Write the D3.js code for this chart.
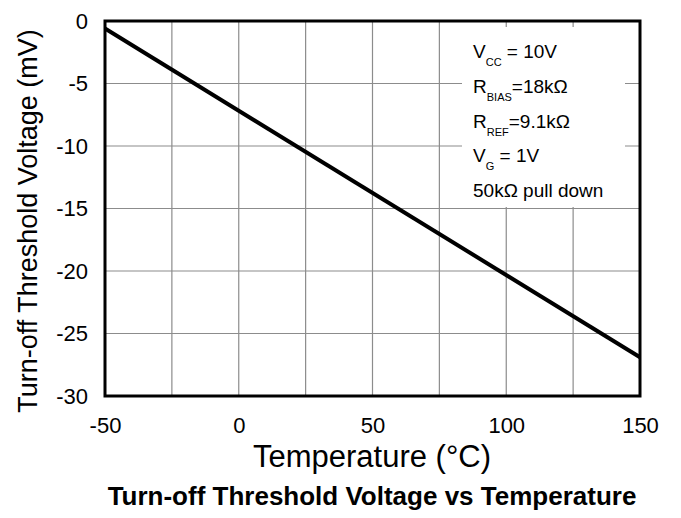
<html>
<head>
<meta charset="utf-8">
<script src="https://d3js.org/d3.v7.min.js"></script>
<style>
  body { margin: 0; background: #fff; }
  svg text { font-family: "Liberation Sans", Arial, sans-serif; fill: #000; }
</style>
</head>
<body>
<svg id="chart" width="681" height="518"></svg>
<script>
    // data
    var temps = [-50, 150];
    var volts = [-0.6, -26.9];
    var xTicks = [-50, 0, 50, 100, 150];
    var xGrid = [-50, -25, 0, 25, 50, 75, 100, 125, 150];
    var yTicks = [0, -5, -10, -15, -20, -25, -30];
    var notes = [
        ["V", "CC", " = 10V"],
        ["R", "BIAS", "=18k\u03A9"],
        ["R", "REF", "=9.1k\u03A9"],
        ["V", "G", " = 1V"],
        ["50k\u03A9 pull down", "", ""]
    ];

    var svg = d3.select("#chart");
    var margin = {top: 21, left: 105, right: 41, bottom: 122},
        width = 681 - margin.left - margin.right,
        height = 518 - margin.top - margin.bottom;

    var x = d3.scaleLinear().domain([-50, 150]).range([0, width]);
    var y = d3.scaleLinear().domain([-30, 0]).range([height, 0]);

    var g = svg.append("g")
        .attr("transform", "translate(" + margin.left + "," + margin.top + ")");

    // grid
    g.selectAll(".vgrid").data(xGrid).enter().append("line")
        .attr("x1", d => x(d)).attr("x2", d => x(d))
        .attr("y1", 0).attr("y2", height)
        .attr("stroke", "#8c8c8c").attr("stroke-width", 1.2);
    g.selectAll(".hgrid").data(yTicks).enter().append("line")
        .attr("x1", 0).attr("x2", width)
        .attr("y1", d => y(d)).attr("y2", d => y(d))
        .attr("stroke", "#8c8c8c").attr("stroke-width", 1.2);

    // note box covers the grid
    g.append("rect")
        .attr("x", 357).attr("y", 6)
        .attr("width", 163).attr("height", 180)
        .attr("fill", "#fff");

    var nt = g.selectAll(".note").data(notes).enter().append("text")
        .attr("x", 368)
        .attr("y", (d, i) => 37 + i * 34.8)
        .style("font-size", "19px");
    nt.append("tspan").text(d => d[0]);
    nt.append("tspan").attr("dy", 8).style("font-size", "11px").text(d => d[1]);
    nt.append("tspan").attr("dy", -8).text(d => d[2]);

    // data line
    var line = d3.line().x(d => x(d[0])).y(d => y(d[1]));
    g.append("path")
        .datum(d3.zip(temps, volts))
        .attr("d", line)
        .attr("fill", "none")
        .attr("stroke", "#000")
        .attr("stroke-width", 4);

    // frame
    g.append("rect")
        .attr("width", width).attr("height", height)
        .attr("fill", "none").attr("stroke", "#000").attr("stroke-width", 3);

    // axes
    var xAxis = g.append("g")
        .attr("transform", "translate(0," + height + ")")
        .call(d3.axisBottom(x).tickValues(xTicks).tickFormat(d => String(d)).tickSize(0).tickPadding(21));
    xAxis.select(".domain").remove();
    xAxis.selectAll("text").style("font-size", "22px");

    var yAxis = g.append("g")
        .call(d3.axisLeft(y).tickValues(yTicks).tickFormat(d => String(d)).tickSize(0).tickPadding(17));
    yAxis.select(".domain").remove();
    yAxis.selectAll("text").style("font-size", "22px");

    svg.append("text")
        .attr("x", 372)
        .attr("y", 467)
        .attr("text-anchor", "middle")
        .style("font-size", "31px")
        .text("Temperature (\u00B0C)");

    svg.append("text")
        .attr("transform", "translate(37,221) rotate(-90)")
        .attr("text-anchor", "middle")
        .style("font-size", "27px")
        .text("Turn-off Threshold Voltage (mV)");

    svg.append("text")
        .attr("x", 372)
        .attr("y", 505)
        .attr("text-anchor", "middle")
        .style("font-size", "26px")
        .style("font-weight", "bold")
        .text("Turn-off Threshold Voltage vs Temperature");
</script>
</body>
</html>
